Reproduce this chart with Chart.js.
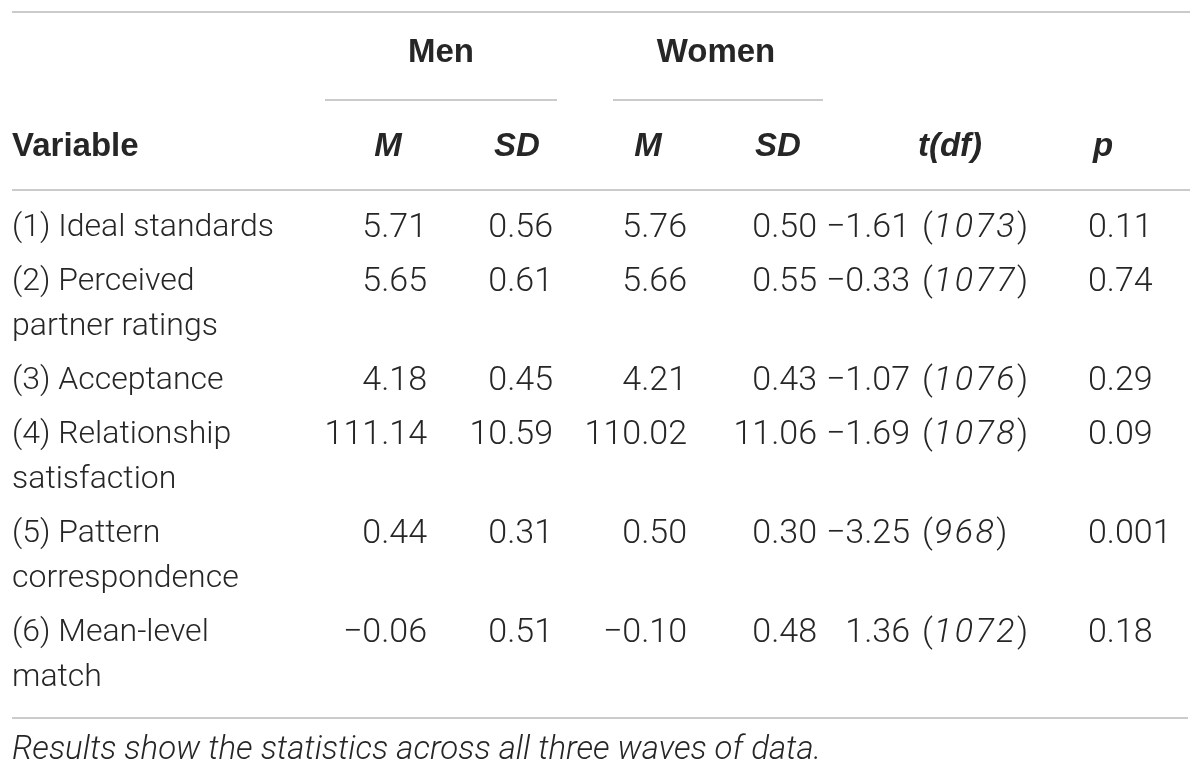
<!DOCTYPE html>
<html>
<head>
<meta charset="utf-8">
<script src="https://cdn.jsdelivr.net/npm/chart.js@4"></script>
<style>
html, body { margin: 0; padding: 0; background: #fff; }
#wrap { width: 1200px; height: 775px; }
</style>
</head>
<body>
<div id="wrap"><canvas id="table" width="1200" height="775"></canvas></div>
<script>
// table values
const variables = [
  ['(1) Ideal standards'],
  ['(2) Perceived', 'partner ratings'],
  ['(3) Acceptance'],
  ['(4) Relationship', 'satisfaction'],
  ['(5) Pattern', 'correspondence'],
  ['(6) Mean-level', 'match']
];
const menM = [5.71, 5.65, 4.18, 111.14, 0.44, -0.06];
const menSD = [0.56, 0.61, 0.45, 10.59, 0.31, 0.51];
const womenM = [5.76, 5.66, 4.21, 110.02, 0.50, -0.10];
const womenSD = [0.50, 0.55, 0.43, 11.06, 0.30, 0.48];
const tVals = [-1.61, -0.33, -1.07, -1.69, -3.25, 1.36];
const dfVals = [1073, 1077, 1076, 1078, 968, 1072];
const pVals = [0.11, 0.74, 0.29, 0.09, 0.001, 0.18];
const groupLabels = ['Men', 'Women'];
const columnLabels = ['M', 'SD', 'M', 'SD', 't(df)', 'p'];
const footnote = 'Results show the statistics across all three waves of data.';

// layout (axis units = page pixels)
const rowY = [228, 282, 381, 435, 534, 633];
const lineGap = 45;
const bodyFont = '300 32px Roboto, "Liberation Sans", sans-serif';
const numFont = '300 34px Roboto, "Liberation Sans", sans-serif';
const numItalicFont = 'italic 300 34px Roboto, "Liberation Sans", sans-serif';
const boldFont = 'bold 33px "Liberation Sans", Arial, sans-serif';
const boldItalicFont = 'italic bold 33px "Liberation Sans", Arial, sans-serif';
const noteFont = 'italic 300 33px Roboto, "Liberation Sans", sans-serif';
const textColor = '#262626';
const ruleColor = '#cbcbcb';

const fmt = v => {
  let s = v.toFixed(2);
  if (Number(s) !== v) s = String(v);
  return s.replace('-', '\u2212');
};

function column(x, values, align, font) {
  return {
    data: rowY.map(y => ({ x: x, y: y })),
    cells: values,
    align: align,
    font: font || numFont,
    pointRadius: 0,
    showLine: false
  };
}

function rule(x1, x2, y) {
  return {
    data: [{ x: x1, y: y }, { x: x2, y: y }],
    showLine: true,
    borderColor: ruleColor,
    borderWidth: 2,
    pointRadius: 0
  };
}

const datasets = [
  rule(12, 1190, 12),
  rule(325, 557, 100),
  rule(613, 823, 100),
  rule(12, 1190, 190),
  rule(12, 1188, 718),
  {
    data: [{ x: 441, y: 53 }, { x: 716, y: 53 }],
    cells: groupLabels.map(s => [s]),
    align: 'center', font: boldFont, pointRadius: 0
  },
  {
    data: [{ x: 12, y: 147 }],
    cells: [['Variable']],
    align: 'left', font: boldFont, pointRadius: 0
  },
  {
    data: [388, 517, 648, 778, 950, 1103].map(x => ({ x: x, y: 147 })),
    cells: columnLabels.map(s => [s]),
    align: 'center', font: boldItalicFont, pointRadius: 0
  },
  column(12, variables, 'left', bodyFont),
  column(427, menM.map(v => [fmt(v)]), 'right'),
  column(553, menSD.map(v => [fmt(v)]), 'right'),
  column(687, womenM.map(v => [fmt(v)]), 'right'),
  column(817, womenSD.map(v => [fmt(v)]), 'right'),
  Object.assign(column(910, tVals.map((t, i) => ({ t: fmt(t), df: String(dfVals[i]) })), 'right'), { kind: 'tdf' }),
  column(1088, pVals.map(v => [fmt(v)]), 'left'),
  {
    data: [{ x: 12, y: 751 }],
    cells: [[footnote]],
    align: 'left', font: noteFont, pointRadius: 0
  }
];

const cellText = {
  id: 'cellText',
  afterDatasetsDraw(chart) {
    const ctx = chart.ctx;
    const yScale = chart.scales.y;
    const step = yScale.getPixelForValue(lineGap) - yScale.getPixelForValue(0);
    ctx.save();
    ctx.fillStyle = textColor;
    ctx.textBaseline = 'middle';
    chart.data.datasets.forEach((ds, i) => {
      if (!ds.cells) return;
      const meta = chart.getDatasetMeta(i);
      meta.data.forEach((pt, j) => {
        const cell = ds.cells[j];
        if (ds.kind === 'tdf') {
          // t value right-aligned, then "(df)" with df in italics
          ctx.font = ds.font;
          ctx.textAlign = 'right';
          ctx.fillText(cell.t, pt.x, pt.y);
          ctx.textAlign = 'left';
          let x = pt.x + 12;
          ctx.fillText('(', x, pt.y);
          x += ctx.measureText('(').width + 1;
          ctx.font = numItalicFont;
          ctx.letterSpacing = '2.5px';
          ctx.fillText(cell.df, x, pt.y);
          x += ctx.measureText(cell.df).width;
          ctx.letterSpacing = '0px';
          ctx.font = ds.font;
          ctx.fillText(')', x, pt.y);
          return;
        }
        ctx.font = ds.font;
        ctx.textAlign = ds.align;
        cell.forEach((line, k) => ctx.fillText(line, pt.x, pt.y + k * step));
      });
    });
    ctx.restore();
  }
};

new Chart(document.getElementById('table'), {
  type: 'scatter',
  data: { datasets: datasets },
  options: {
    responsive: false,
    animation: false,
    layout: { padding: 0 },
    plugins: {
      legend: { display: false },
      tooltip: { enabled: false }
    },
    scales: {
      x: { type: 'linear', min: 0, max: 1200, display: false },
      y: { type: 'linear', min: 0, max: 775, reverse: true, display: false }
    }
  },
  plugins: [cellText]
});
</script>
</body>
</html>
